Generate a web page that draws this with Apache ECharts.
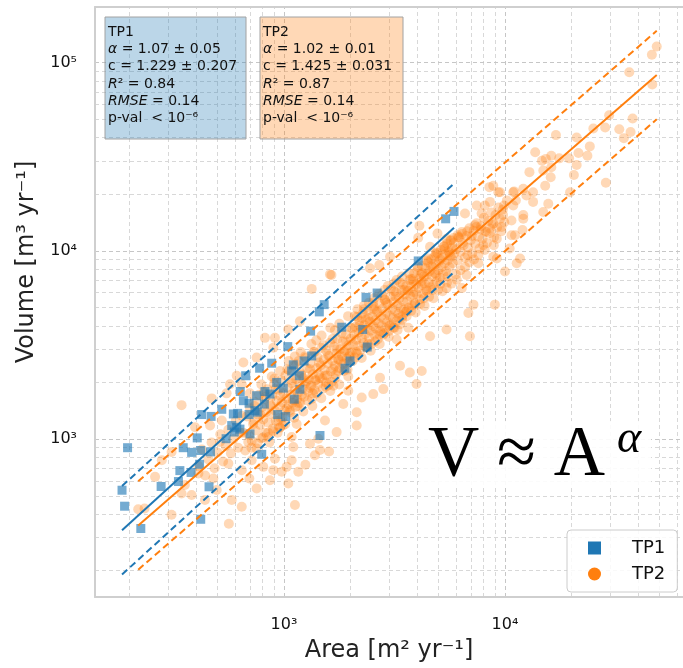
<!DOCTYPE html>
<html>
<head>
<meta charset="utf-8">
<script src="https://cdn.jsdelivr.net/npm/echarts@6.0.0/dist/echarts.min.js"></script>
<style>
html, body { margin: 0; padding: 0; background: #ffffff; }
#chart { width: 683px; height: 668px; }
</style>
</head>
<body>
<div id="chart"></div>
<script>
// ---------------------------------------------------------------
// Data: annual eroded area A [m2/yr] vs. volume V [m3/yr]
// ---------------------------------------------------------------

// TP1 observations [area, volume]
const tp1Points = [
  [196, 900], [185, 535], [190, 440], [225, 335], [278, 560], [338, 680], [333, 595],
  [380, 665], [350, 900], [382, 850], [405, 1015], [420, 870], [415, 735], [465, 855],
  [458, 558], [420, 375], [424, 1350], [468, 1320], [523, 1440], [590, 1360], [617, 1370],
  [634, 1790], [671, 2170], [776, 2380], [880, 2530], [1040, 3100], [695, 1550], [752, 1700],
  [820, 1790], [815, 1535], [757, 1390], [695, 1350], [580, 1180], [611, 1155], [596, 1090],
  [547, 1005], [702, 1065], [793, 830], [936, 1350], [1018, 1317], [993, 1865], [927, 2000],
  [1083, 2300], [4050, 8840], [2640, 5970], [2350, 5660], [1520, 5180], [1445, 4740],
  [1825, 3930], [2270, 3820], [1320, 3745], [2380, 3085], [1335, 2765], [1232, 2600],
  [1102, 2480], [1173, 2170], [1888, 2380], [1990, 2600], [864, 1735], [1113, 1630],
  [739, 1415], [655, 1600], [632, 1130], [1455, 1045], [5880, 16200], [5390, 14800],
  [1180, 1840]
];

// TP2 observations [area, volume]
const tp2Points = [
  // small catchments
  [219, 424], [234, 428], [261, 630], [280, 772], [310, 396], [310, 854], [344, 514],
  [344, 1515], [356, 570], [382, 505], [396, 1157], [410, 656], [439, 475], [463, 1180],
  [471, 1645], [479, 617], [496, 536], [513, 964], [523, 1256], [550, 1750], [560, 741],
  [563, 355], [580, 475], [644, 437], [644, 684], [644, 1958], [689, 964], [697, 617],
  [714, 772], [752, 547], [806, 712], [864, 605], [895, 684], [910, 787], [976, 670],
  [1028, 712], [1046, 581], [1083, 772], [1083, 1025], [1102, 907], [1121, 447], [1161, 670],
  [1250, 730], [1311, 945], [1380, 820], [1455, 875], [1600, 860], [849, 1025], [959, 1157],
  [410, 720], [425, 880], [440, 640], [455, 780], [470, 960], [485, 700], [500, 850],
  [515, 1060], [530, 760], [545, 920], [560, 1120], [575, 840], [590, 1000], [605, 1250],
  [620, 900], [635, 1080], [645, 1330],
  // above the trend
  [570, 1958], [611, 2170], [655, 2550], [752, 2710], [820, 3450], [895, 3060], [910, 3450],
  [1045, 3820], [1180, 4230], [1335, 6280], [1615, 7500], [1640, 7450], [2450, 8090],
  [2700, 8410], [3020, 9300], [4100, 13600], [4050, 11750],
  // below the trend
  [1141, 1204], [1430, 1004], [1533, 1256], [1672, 1920], [1731, 1089], [1855, 1536],
  [1954, 1805], [2133, 1181], [2133, 1388], [2247, 1665], [2535, 1734], [2720, 2120],
  [2815, 1843], [3235, 3380], [3350, 2450], [3650, 3900], [3710, 2260], [3980, 1960],
  [4200, 2300], [4580, 3520], [5440, 3820], [6940, 3520], [6830, 4680], [7200, 5180],
  [9000, 5180], [3850, 5850], [4200, 6870], [4420, 6100], [4900, 7450], [5440, 6340],
  [6050, 7020], [6380, 6340], [6700, 7450], [10000, 7770], [11700, 9100], [11300, 8600],
  [7580, 8600], [8850, 9300],
  // 650 - 1000 m2
  [655, 1080], [668, 870], [680, 1320], [694, 1050], [702, 1460], [715, 980], [728, 1240],
  [736, 1580], [744, 1110], [752, 890], [760, 1350], [771, 1720], [780, 1190], [789, 1010],
  [797, 1480], [806, 1270], [815, 1630], [822, 1080], [830, 1390], [841, 1840], [850, 1220],
  [858, 960], [866, 1530], [875, 1360], [884, 1700], [892, 1140], [901, 1960], [910, 1420],
  [918, 1250], [927, 1600], [936, 1080], [944, 1830], [953, 1490], [962, 1300], [971, 2050],
  [980, 1570], [989, 1180], [997, 1750], [700, 1750], [790, 1950], [880, 2150], [960, 2300],
  [712, 900], [735, 1500], [758, 950], [781, 1350], [803, 1020], [826, 1680], [848, 1080],
  [871, 1500], [893, 1100], [916, 1850], [939, 1250], [961, 1700], [984, 1300], [725, 1200],
  [812, 1780], [905, 2100], [957, 1150],
  // 1000 - 2000 m2
  [1008, 1420], [1016, 2180], [1024, 1640], [1031, 1450], [1040, 1880], [1049, 1530],
  [1057, 2320], [1066, 1390], [1074, 1720], [1083, 1980], [1092, 1560], [1101, 1610],
  [1110, 2450], [1119, 1820], [1128, 1480], [1137, 2080], [1146, 1630], [1156, 1760],
  [1165, 2600], [1175, 1950], [1184, 1560], [1194, 2240], [1204, 1720], [1214, 1870],
  [1224, 2110], [1234, 1680], [1244, 2750], [1254, 1990], [1264, 2030], [1275, 2370],
  [1285, 1790], [1296, 2080], [1306, 1870], [1317, 2520], [1328, 1920], [1339, 1640],
  [1350, 2210], [1361, 2900], [1372, 1830], [1383, 2050], [1395, 2060], [1406, 2380],
  [1418, 2730], [1429, 1960], [1441, 2200], [1453, 2120], [1465, 2460], [1477, 3050],
  [1489, 2090], [1501, 1850], [1514, 2640], [1526, 2330], [1539, 2180], [1551, 2950],
  [1564, 2180], [1577, 2520], [1590, 1940], [1603, 2770], [1617, 3250], [1630, 2290],
  [1644, 2010], [1657, 2600], [1671, 2360], [1685, 3100], [1699, 2450], [1713, 2200],
  [1727, 2850], [1741, 3400], [1756, 2660], [1770, 2640], [1785, 2380], [1800, 3000],
  [1815, 2580], [1830, 2750], [1845, 3300], [1861, 2510], [1876, 2900], [1892, 2960],
  [1908, 3600], [1923, 2680], [1939, 2340], [1956, 3150], [1972, 2750], [1988, 2870],
  [1050, 2600], [1190, 2900], [1330, 3200], [1480, 3550], [1620, 3900], [1780, 4100],
  [1950, 4500], [1120, 2750], [1400, 3350], [1700, 3800],
  [1012, 1200], [1036, 2350], [1061, 1420], [1087, 2050], [1113, 1300], [1139, 2500],
  [1167, 1550], [1195, 2200], [1223, 1400], [1252, 2700], [1282, 1600], [1312, 2350],
  [1343, 1500], [1375, 2900], [1408, 1750], [1441, 2550], [1475, 1650], [1510, 3150],
  [1546, 1900], [1583, 2800], [1620, 1800], [1658, 3400], [1698, 2100], [1738, 3000],
  [1779, 1950], [1821, 3650], [1864, 2300], [1909, 3300], [1954, 2150], [1999, 3900],
  [1150, 1500], [1350, 1750], [1550, 2000], [1760, 2300], [1960, 2550],
  // 2000 - 3500 m2
  [2005, 3420], [2021, 2890], [2038, 3880], [2055, 3180], [2072, 3560], [2089, 2710],
  [2106, 3950], [2124, 3370], [2141, 4450], [2159, 3120], [2177, 3680], [2195, 4240],
  [2213, 2950], [2232, 3860], [2250, 3440], [2269, 4650], [2288, 3240], [2307, 4020],
  [2326, 3610], [2345, 4320], [2365, 3060], [2384, 3880], [2404, 4820], [2424, 3470],
  [2444, 4200], [2464, 3760], [2485, 3200], [2506, 4480], [2526, 3990], [2547, 5050],
  [2569, 3580], [2590, 4280], [2612, 3860], [2633, 4720], [2655, 3390], [2677, 4120],
  [2700, 5260], [2722, 3740], [2745, 4480], [2768, 4000], [2791, 4930], [2814, 3580],
  [2838, 4340], [2861, 5500], [2885, 3880], [2909, 4700], [2933, 4200], [2958, 5180],
  [2983, 3750], [3007, 4530], [3032, 5700], [3058, 4050], [3083, 4920], [3109, 4400],
  [3135, 5350], [3161, 3900], [3187, 4780], [3214, 6000], [3240, 4250], [3267, 5160],
  [3294, 4630], [3322, 5600], [3349, 4080], [3377, 4980], [3405, 6200], [3434, 4500],
  [3462, 5400], [3491, 4860], [2150, 4900], [2420, 5300], [2680, 5900], [2950, 6500],
  [3230, 7000], [2300, 5100], [2560, 5600], [2850, 6200], [3150, 6700], [3420, 7300],
  [2046, 2600], [2094, 4500], [2144, 2850], [2195, 4000], [2247, 2700], [2300, 4900],
  [2355, 3100], [2411, 4400], [2468, 2950], [2526, 5300], [2586, 3300], [2647, 4800],
  [2710, 3200], [2774, 5800], [2840, 3650], [2907, 5300], [2976, 3500], [3047, 6300],
  [3119, 3900], [3193, 5700], [3268, 3800], [3346, 6800], [3425, 4300], [3506, 6200],
  [2120, 2900], [2400, 3200], [2700, 3600], [3000, 4000], [3300, 4400], [2250, 4400],
  [2550, 4900], [2850, 5500], [3150, 6100], [3450, 6600],
  // 3500 - 6000 m2
  [3520, 5860], [3550, 4710], [3579, 6500], [3609, 5400], [3640, 6140], [3670, 4980],
  [3701, 7000], [3732, 5720], [3763, 6420], [3794, 5120], [3826, 7100], [3858, 6050],
  [3890, 7600], [3922, 5280], [3955, 6650], [3988, 5900], [4021, 7900], [4055, 6400],
  [4089, 7100], [4123, 5520], [4157, 7500], [4192, 6580], [4227, 8300], [4262, 5920],
  [4298, 7300], [4334, 6700], [4370, 8100], [4407, 6200], [4443, 7500], [4481, 8700],
  [4518, 6800], [4556, 7800], [4594, 6400], [4632, 9000], [4671, 7300], [4710, 8200],
  [4749, 6600], [4789, 9300], [4829, 7600], [4869, 8500], [4910, 6900], [4951, 9700],
  [4993, 7900], [5034, 8800], [5077, 7200], [5119, 10100], [5162, 8200], [5205, 9200],
  [5249, 7500], [5293, 10500], [5337, 8600], [5382, 9600], [5427, 7800], [5473, 10900],
  [5518, 8900], [5565, 10000], [5611, 8200], [5658, 11300], [5706, 9300], [5753, 10400],
  [5802, 8600], [5850, 11700], [5899, 9700],
  [3589, 4500], [3674, 7600], [3761, 4800], [3850, 6900], [3941, 4700], [4034, 8200],
  [4129, 5200], [4227, 7600], [4327, 5100], [4429, 8900], [4534, 5700], [4641, 8300],
  [4751, 5600], [4863, 9600], [4978, 6200], [5096, 9000], [5216, 6100], [5340, 10300],
  [5466, 6800], [5595, 9800], [5728, 6700], [5863, 11000],
  [3600, 4800], [3900, 5200], [3750, 7100], [4300, 5600], [4700, 6200], [5100, 6700],
  [5500, 7300], [4500, 9100], [4900, 9800], [5300, 10600], [5700, 11400],
  // 6000 - 10000 m2
  [6020, 10200], [6110, 8900], [6200, 11800], [6300, 9900], [6390, 12300], [6490, 10700],
  [6590, 9200], [6690, 12000], [6790, 10400], [6900, 13200], [7000, 11400], [7110, 9700],
  [7220, 12800], [7330, 10900], [7440, 14000], [7560, 11900], [7670, 10300], [7790, 13500],
  [7910, 11600], [8030, 15000], [8150, 12700], [8280, 11000], [8400, 14400], [8530, 12400],
  [8660, 16000], [8790, 13800], [8930, 11800], [9060, 15500], [9200, 13300], [9340, 17000],
  [9490, 14800], [9630, 12700], [9780, 16600], [9930, 14200],
  [5640, 9500], [6760, 9500], [9180, 9100], [10500, 10300], [8100, 10100], [8900, 10700],
  [11100, 12100], [6380, 12600], [8550, 13150], [7300, 13700], [10700, 14500], [12100, 15500],
  [9800, 15500], [7840, 15800], [6590, 15800], [7450, 17400], [11000, 20700], [9500, 20500],
  [8500, 21800], [4580, 10500], [4950, 12350], [5440, 11600],
  [6002, 7500], [6144, 11800], [6290, 7900], [6438, 11000], [6591, 8200], [6747, 12700],
  [6906, 8700], [7070, 12000], [7237, 9000], [7408, 13400], [7584, 9500], [7763, 13000],
  [6100, 12100],
  // large catchments
  [36500, 88900], [46400, 76600], [29600, 52500], [37800, 50500], [32900, 44300],
  [37000, 42800], [34500, 39700], [28400, 45200], [25100, 44700], [21100, 40000],
  [17000, 41200], [24200, 35900], [21500, 33100], [23600, 32000], [16200, 32000],
  [17600, 31000], [19500, 31000], [13700, 33400], [21100, 28600], [20500, 25300],
  [12900, 26200], [14900, 26700], [16200, 27800], [16100, 24600], [28600, 23000],
  [19700, 20500], [15200, 22200], [15700, 17800], [14900, 16100], [13400, 18200],
  [13400, 20500], [12100, 21400], [12500, 19700], [10900, 20500], [11200, 18500],
  [12100, 14800], [10900, 17400], [12000, 12900], [10700, 12100], [15300, 30800],
  [14700, 30100], [10200, 18500], [9900, 17400], [9330, 20500], [8850, 22200],
  [8550, 18200], [8100, 17400], [9650, 13400], [8850, 14000], [8240, 12600],
  [9180, 11600], [7980, 10700], [48600, 121900], [46200, 110200]
];

// Power-law fit V = c * A^alpha for each group (values from the fit summary)
const fitTP1 = { alpha: 1.07, alphaErr: 0.05, c: 1.229, cErr: 0.207, r2: 0.84, rmse: 0.14 };
const fitTP2 = { alpha: 1.02, alphaErr: 0.01, c: 1.425, cErr: 0.031, r2: 0.87, rmse: 0.14 };
// half-width of the dashed prediction band, in log10 units
const bandHalfWidth = 0.235;

// Axis extents
const areaRange = [139.6, 63890];
const volumeRange = [144.9, 197500];

// Log-grid positions
const areaMajorGrid = [1000, 10000];
const areaMinorGrid = [200, 300, 400, 500, 600, 700, 800, 900,
  2000, 3000, 4000, 5000, 6000, 7000, 8000, 9000,
  20000, 30000, 40000, 50000, 60000];
const volumeMajorGrid = [1000, 10000, 100000];
const volumeMinorGrid = [200, 300, 400, 500, 600, 700, 800, 900,
  2000, 3000, 4000, 5000, 6000, 7000, 8000, 9000,
  20000, 30000, 40000, 50000, 60000, 70000, 80000, 90000];

// ---------------------------------------------------------------
const FONT = '"DejaVu Sans", "Noto Sans", sans-serif';
const SERIF = '"Liberation Serif", "DejaVu Serif", serif';
const BLUE = '#1f77b4';
const ORANGE = '#ff7f0e';
const FRAME = '#cfcfcf';

const SUP = { '0': '⁰', '1': '¹', '2': '²', '3': '³', '4': '⁴', '5': '⁵',
  '6': '⁶', '7': '⁷', '8': '⁸', '9': '⁹', '-': '⁻' };
function sup(s) { return String(s).split('').map(ch => SUP[ch] || ch).join(''); }

function powerTick(v) {
  const e = Math.log10(v);
  const r = Math.round(e);
  return Math.abs(e - r) < 1e-6 ? '10' + sup(r) : '';
}

// fitted line and band between the smallest and largest observed area
function fitLines(points, fit) {
  const areas = points.map(p => p[0]);
  const a0 = Math.min.apply(null, areas);
  const a1 = Math.max.apply(null, areas);
  const f = a => fit.c * Math.pow(a, fit.alpha);
  const k = Math.pow(10, bandHalfWidth);
  return {
    mid: [[a0, f(a0)], [a1, f(a1)]],
    up: [[a0, f(a0) * k], [a1, f(a1) * k]],
    lo: [[a0, f(a0) / k], [a1, f(a1) / k]]
  };
}
const l1 = fitLines(tp1Points, fitTP1);
const l2 = fitLines(tp2Points, fitTP2);

function lineSeries(name, data, color, dashed, z) {
  return {
    name: name, type: 'line', data: data, showSymbol: false, symbol: 'none',
    silent: true, z: z, xAxisIndex: 0,
    lineStyle: { color: color, width: 2, type: dashed ? [7, 4] : 'solid' }
  };
}

function gridMark(list, key, color) {
  return list.map(v => ({ [key]: v, lineStyle: { color: color } }));
}

function statsText(name, fit) {
  return name + '\n' +
    '{i|α} = ' + fit.alpha.toFixed(2) + ' ± ' + fit.alphaErr.toFixed(2) + '\n' +
    'c = ' + fit.c.toFixed(3) + ' ± ' + fit.cErr.toFixed(3) + '\n' +
    '{i|R}² = ' + fit.r2.toFixed(2) + '\n' +
    '{i|RMSE} = ' + fit.rmse.toFixed(2) + '\n' +
    'p-val  < 10⁻⁶';
}

const statsStyle = {
  fontFamily: FONT, fontSize: 14, lineHeight: 17.3, fill: '#111',
  rich: { i: { fontStyle: 'italic', fontFamily: FONT, fontSize: 14, lineHeight: 17.3, fill: '#111' } }
};

const logAxisBase = {
  type: 'log', logBase: 10,
  axisTick: { show: false }, splitLine: { show: false }
};

const chart = echarts.init(document.getElementById('chart'), null, { renderer: 'canvas' });

chart.setOption({
  animation: false,
  backgroundColor: '#ffffff',
  textStyle: { fontFamily: FONT },
  grid: { left: 95, top: 7, right: 0, bottom: 67, show: false },
  xAxis: [
    Object.assign({}, logAxisBase, {
      position: 'bottom', min: areaRange[0], max: areaRange[1],
      name: 'Area [m² yr⁻¹]', nameLocation: 'middle', nameGap: 42,
      nameTextStyle: { fontFamily: FONT, fontSize: 24, color: '#222' },
      axisLine: { show: true, lineStyle: { color: FRAME, width: 2 } },
      axisLabel: { formatter: powerTick, fontFamily: FONT, fontSize: 16, color: '#111', margin: 20,
        showMinLabel: false, showMaxLabel: false }
    }),
    Object.assign({}, logAxisBase, {
      position: 'top', min: areaRange[0], max: areaRange[1],
      axisLine: { show: true, lineStyle: { color: FRAME, width: 2 } },
      axisLabel: { show: false }
    })
  ],
  yAxis: Object.assign({}, logAxisBase, {
    min: volumeRange[0], max: volumeRange[1],
    axisLine: { show: true, lineStyle: { color: FRAME, width: 2 } },
    axisLabel: { formatter: powerTick, fontFamily: FONT, fontSize: 16, color: '#111', margin: 18,
      showMinLabel: false, showMaxLabel: false }
  }),
  legend: {
    left: 567, top: 530, orient: 'vertical', z: 20,
    padding: [8, 12, 8, 21], itemWidth: 13, itemHeight: 13, itemGap: 6,
    backgroundColor: 'rgba(255,255,255,0.85)', borderColor: '#cccccc', borderWidth: 1, borderRadius: 4,
    textStyle: { fontFamily: FONT, fontSize: 18, color: '#111', padding: [0, 0, 0, 26], lineHeight: 20 },
    data: [
      { name: 'TP1', icon: 'rect', itemStyle: { color: BLUE, opacity: 1, borderWidth: 0 } },
      { name: 'TP2', icon: 'circle', itemStyle: { color: ORANGE, opacity: 1, borderWidth: 0 } }
    ]
  },
  series: [
    {
      name: 'grid', type: 'line', data: [], silent: true, z: 0,
      markLine: {
        z: 0, silent: true, symbol: ['none', 'none'], label: { show: false },
        lineStyle: { type: [4, 3], width: 1, color: '#dcdcdc' },
        emphasis: { disabled: true },
        data: [].concat(
          gridMark(areaMinorGrid, 'xAxis', '#d8d8d8'),
          gridMark(volumeMinorGrid, 'yAxis', '#d8d8d8'),
          gridMark(areaMajorGrid, 'xAxis', '#c6c6c6'),
          gridMark(volumeMajorGrid, 'yAxis', '#c6c6c6')
        )
      }
    },
    {
      name: 'TP2', type: 'scatter', data: tp2Points, symbol: 'circle', symbolSize: 10, z: 2,
      itemStyle: { color: ORANGE, opacity: 0.3 }, silent: true
    },
    {
      name: 'TP1', type: 'scatter', data: tp1Points, symbol: 'rect', symbolSize: 9, z: 3,
      itemStyle: { color: BLUE, opacity: 0.62 }, silent: true
    },
    lineSeries('TP2 fit', l2.mid, ORANGE, false, 4),
    lineSeries('TP2 upper', l2.up, ORANGE, true, 4),
    lineSeries('TP2 lower', l2.lo, ORANGE, true, 4),
    lineSeries('TP1 fit', l1.mid, BLUE, false, 5),
    lineSeries('TP1 upper', l1.up, BLUE, true, 5),
    lineSeries('TP1 lower', l1.lo, BLUE, true, 5)
  ],
  graphic: [
    {
      type: 'rect', z: 10, shape: { x: 105, y: 17, width: 141, height: 122 },
      style: { fill: 'rgba(31,119,180,0.3)', stroke: '#a2a2a2', lineWidth: 1 }
    },
    {
      type: 'text', z: 11, x: 108, y: 23.4,
      style: Object.assign({ text: statsText('TP1', fitTP1) }, statsStyle)
    },
    {
      type: 'rect', z: 10, shape: { x: 260, y: 17, width: 143, height: 122 },
      style: { fill: 'rgba(255,127,14,0.3)', stroke: '#a2a2a2', lineWidth: 1 }
    },
    {
      type: 'text', z: 11, x: 263, y: 23.4,
      style: Object.assign({ text: statsText('TP2', fitTP2) }, statsStyle)
    },
    {
      type: 'rect', z: 10, shape: { x: 419, y: 421, width: 232, height: 64 },
      style: { fill: 'rgba(255,255,255,0.9)' }
    },
    {
      type: 'text', z: 11, x: 428, y: 456,
      style: { text: 'V ≈ A', fontFamily: SERIF, fontSize: 71, fill: '#000', verticalAlign: 'middle' }
    },
    {
      type: 'text', z: 11, x: 617, y: 440,
      style: { text: 'α', fontFamily: SERIF, fontStyle: 'italic', fontSize: 46, fill: '#000',
        verticalAlign: 'middle' }
    },
    {
      type: 'text', z: 11, x: 27, y: 262, rotation: Math.PI / 2,
      style: { text: 'Volume [m³ yr⁻¹]', fontFamily: FONT, fontSize: 24, fill: '#222',
        align: 'center', verticalAlign: 'middle' }
    }
  ]
});
</script>
</body>
</html>
